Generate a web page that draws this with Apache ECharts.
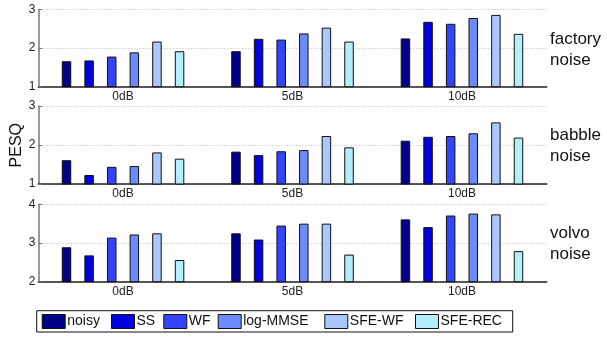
<!DOCTYPE html>
<html>
<head>
<meta charset="utf-8">
<script src="https://cdn.jsdelivr.net/npm/echarts@6/dist/echarts.min.js"></script>
<style>html,body{margin:0;padding:0;background:#fff;}#c{width:607px;height:338px;}</style>
</head>
<body>
<div id="c"></div>
<script>
const categories = ['0dB', '5dB', '10dB'];
const methods = ['noisy', 'SS', 'WF', 'log-MMSE', 'SFE-WF', 'SFE-REC'];
const colors = ['#000088', '#0000E0', '#3344FF', '#6B8BFF', '#A8C8FF', '#B3EEFF'];
const panelLabels = ['factory\nnoise', 'babble\nnoise', 'volvo\nnoise'];
const yMins = [1, 1, 2];
const yMaxs = [3, 3, 4];
// values per method: [0dB, 5dB, 10dB]
const factory = {
  'noisy':    [1.66, 1.92, 2.25],
  'SS':       [1.68, 2.24, 2.68],
  'WF':       [1.78, 2.22, 2.63],
  'log-MMSE': [1.89, 2.38, 2.78],
  'SFE-WF':   [2.17, 2.53, 2.86],
  'SFE-REC':  [1.92, 2.17, 2.37]
};
const babble = {
  'noisy':    [1.61, 1.83, 2.11],
  'SS':       [1.23, 1.74, 2.21],
  'WF':       [1.44, 1.84, 2.23],
  'log-MMSE': [1.46, 1.87, 2.30],
  'SFE-WF':   [1.81, 2.23, 2.58],
  'SFE-REC':  [1.65, 1.94, 2.19]
};
const volvo = {
  'noisy':    [2.89, 3.25, 3.61],
  'SS':       [2.68, 3.09, 3.41],
  'WF':       [3.14, 3.45, 3.71],
  'log-MMSE': [3.22, 3.50, 3.76],
  'SFE-WF':   [3.25, 3.50, 3.74],
  'SFE-REC':  [2.56, 2.70, 2.79]
};
const panels = [factory, babble, volvo];

const gridTops = [9.5, 106, 204.3];
const gridHeights = [77.2, 78, 77.4];
const FONT = 'Liberation Sans, Arial, Helvetica, sans-serif';

const grids = [], xAxes = [], yAxes = [], series = [], graphics = [];
panels.forEach((p, i) => {
  grids.push({left: 38.3, width: 508.4, top: gridTops[i], height: gridHeights[i]});
  xAxes.push({
    type: 'category', gridIndex: i, data: categories,
    axisLine: {lineStyle: {color: '#222', width: 1.5}},
    axisTick: {inside: true, alignWithLabel: true, length: 4, lineStyle: {color: '#444'}},
    axisLabel: {fontSize: 12, color: '#222', margin: 4, fontFamily: FONT}
  });
  yAxes.push({
    type: 'value', gridIndex: i, min: yMins[i], max: yMaxs[i], interval: 1,
    axisLine: {show: true, lineStyle: {color: '#777', width: 1.5}},
    axisTick: {show: true, inside: true, length: 4, lineStyle: {color: '#777'}},
    axisLabel: {fontSize: 12, color: '#222', margin: 3, fontFamily: FONT},
    splitLine: {show: true, lineStyle: {color: '#bbb', type: [1, 2], width: 1}}
  });
  methods.forEach((m, k) => {
    series.push({
      type: 'bar', name: m, xAxisIndex: i, yAxisIndex: i,
      data: p[m], barWidth: 9.5, barGap: '138%',
      itemStyle: {color: colors[k], borderColor: '#111', borderWidth: 1},
      emphasis: {disabled: true}, animation: false
    });
  });
  graphics.push({
    type: 'text', left: 550, top: gridTops[i] + 19,
    style: {text: panelLabels[i], fontSize: 17, lineHeight: 21, fill: '#111', fontFamily: FONT}
  });
});

graphics.push({
  type: 'text', left: 9, top: 123, rotation: Math.PI / 2,
  style: {text: 'PESQ', fontSize: 16, fill: '#111', fontFamily: FONT, align: 'center', verticalAlign: 'middle'},
  originX: 0, originY: 0
});
graphics.push({
  type: 'rect', shape: {x: 36.7, y: 310.7, width: 476, height: 21.3},
  style: {fill: 'none', stroke: '#111', lineWidth: 1}
});

const legendLefts = [41.7, 111, 163.3, 217.7, 324.3, 415];
const legends = methods.map((m, k) => ({
  data: [{name: m, icon: 'rect'}], left: legendLefts[k], top: 314, padding: 0,
  itemWidth: 23, itemHeight: 14, selectedMode: false,
  itemStyle: {borderColor: '#111', borderWidth: 1},
  textStyle: {fontSize: 14, color: '#111', fontFamily: FONT, padding: [0, 0, 0, -3]}
}));

const chart = echarts.init(document.getElementById('c'), null, {renderer: 'canvas'});
chart.setOption({
  animation: false,
  grid: grids, xAxis: xAxes, yAxis: yAxes, series: series,
  legend: legends, graphic: graphics
});
</script>
</body>
</html>
